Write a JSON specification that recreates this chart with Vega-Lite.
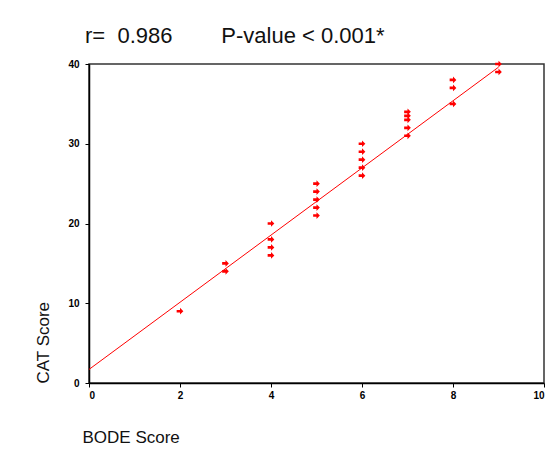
{
  "$schema": "https://vega.github.io/schema/vega-lite/v6.json",
  "autosize": "none",
  "width": 455,
  "height": 319,
  "padding": {"left": 89, "top": 64, "right": 16, "bottom": 68},
  "background": "white",
  "title": {
    "text": "r=\u00a0\u00a00.986\u00a0\u00a0\u00a0\u00a0\u00a0\u00a0\u00a0\u00a0P-value < 0.001*",
    "anchor": "start",
    "frame": "group",
    "font": "Liberation Sans",
    "fontSize": 22,
    "fontWeight": "normal",
    "color": "#111111",
    "baseline": "bottom",
    "offset": 13,
    "dx": -4,
    "dy": 24
  },
  "datasets": {
    "points": [
      {"bode": 2, "cat": 9},
      {"bode": 3, "cat": 15}, {"bode": 3, "cat": 14},
      {"bode": 4, "cat": 20}, {"bode": 4, "cat": 18}, {"bode": 4, "cat": 17}, {"bode": 4, "cat": 16},
      {"bode": 5, "cat": 25}, {"bode": 5, "cat": 24}, {"bode": 5, "cat": 23}, {"bode": 5, "cat": 22}, {"bode": 5, "cat": 21},
      {"bode": 6, "cat": 30}, {"bode": 6, "cat": 29}, {"bode": 6, "cat": 28}, {"bode": 6, "cat": 27}, {"bode": 6, "cat": 26},
      {"bode": 7, "cat": 34}, {"bode": 7, "cat": 33.5}, {"bode": 7, "cat": 33}, {"bode": 7, "cat": 32}, {"bode": 7, "cat": 31},
      {"bode": 8, "cat": 38}, {"bode": 8, "cat": 37}, {"bode": 8, "cat": 35},
      {"bode": 9, "cat": 40}, {"bode": 9, "cat": 39}
    ],
    "fit": [
      {"bode": 0, "cat": 1.7},
      {"bode": 9, "cat": 39.6}
    ]
  },
  "config": {
    "view": {"stroke": "#333333", "strokeWidth": 1.5},
    "axis": {
      "grid": false,
      "domainColor": "#000000",
      "domainWidth": 1.5,
      "tickColor": "#000000",
      "tickSize": 4,
      "labelFont": "Liberation Sans",
      "labelFontSize": 10,
      "labelFontWeight": "bold",
      "labelColor": "#000000",
      "titleFont": "Liberation Sans",
      "titleFontSize": 17,
      "titleFontWeight": "normal",
      "titleColor": "#111111"
    }
  },
  "layer": [
    {
      "data": {"name": "fit"},
      "mark": {"type": "line", "color": "#ff0000", "strokeWidth": 1},
      "encoding": {
        "x": {"field": "bode", "type": "quantitative"},
        "y": {"field": "cat", "type": "quantitative"}
      }
    },
    {
      "data": {"name": "points"},
      "mark": {
        "type": "point",
        "shape": "M-1,-0.4H0V-1L1,0L0,1V0.4H-1Z",
        "filled": true,
        "color": "#ff0000",
        "opacity": 1,
        "size": 45
      },
      "encoding": {
        "x": {
          "field": "bode", "type": "quantitative",
          "scale": {"domain": [0, 10], "nice": false},
          "axis": {
            "values": [0, 2, 4, 6, 8, 10],
            "title": "BODE Score",
            "labelPadding": 3,
            "titleX": -7,
            "titleY": 59,
            "titleAlign": "left",
            "titleBaseline": "alphabetic"
          }
        },
        "y": {
          "field": "cat", "type": "quantitative",
          "scale": {"domain": [0, 40], "nice": false},
          "axis": {
            "values": [0, 10, 20, 30, 40],
            "title": "CAT Score",
            "labelPadding": 6,
            "titleX": -46,
            "titleY": 319,
            "titleAngle": 270,
            "titleAlign": "left",
            "titleBaseline": "middle"
          }
        }
      }
    }
  ]
}
